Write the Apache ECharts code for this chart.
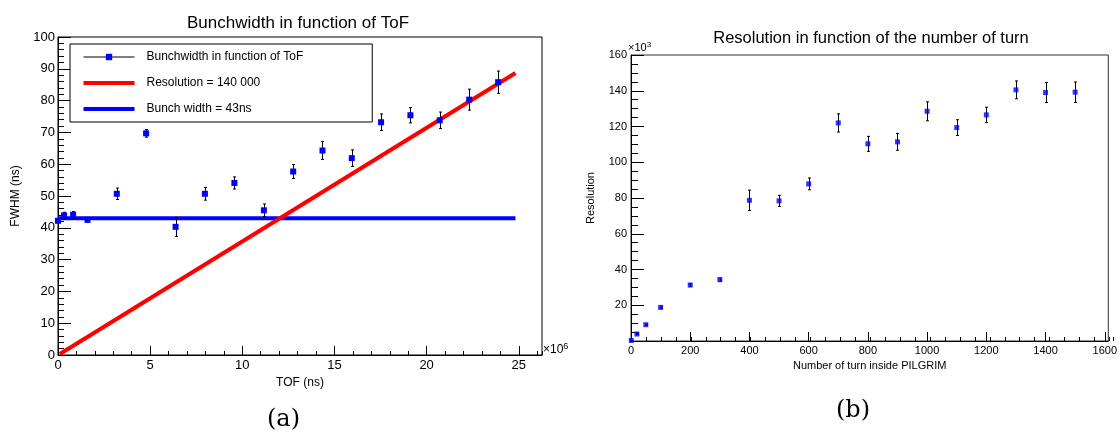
<!DOCTYPE html>
<html><head><meta charset="utf-8">
<script src="https://cdn.jsdelivr.net/npm/echarts@6/dist/echarts.min.js"></script>
<style>html,body{margin:0;padding:0;background:#fff}#c{width:1120px;height:439px}</style>
</head><body><div id="c"></div>
<script>
// ---- Left panel data (a) ----
const tofX    = [0, 0.33, 0.82, 1.6, 3.19, 4.78, 6.38, 7.97, 9.57, 11.17, 12.76, 14.35, 15.94, 17.53, 19.12, 20.71, 22.31, 23.88];
const fwhmY   = [42.2, 43.9, 44.1, 42.5, 50.7, 69.7, 40.3, 50.7, 54.1, 45.5, 57.7, 64.3, 61.9, 73.2, 75.4, 73.8, 80.3, 85.8];
const fwhmErr = [0.3, 1.0, 1.0, 0.7, 1.8, 1.2, 3.0, 2.0, 1.9, 2.0, 2.2, 2.8, 2.6, 2.6, 2.4, 2.6, 3.3, 3.5];
const resFitX = [0.1, 24.82];
const resFitY = [0.3, 88.7];
const bunchX  = [0, 24.82];
const bunchY  = [43, 43];
const leftXTicks = [0, 5, 10, 15, 20, 25];
const leftYTicks = [0, 10, 20, 30, 40, 50, 60, 70, 80, 90, 100];

// ---- Right panel data (b) ----
const turns    = [1, 20, 50, 100, 200, 300, 400, 500, 600, 700, 800, 900, 1000, 1100, 1200, 1300, 1400, 1500];
const resol    = [0.3, 3.9, 9.1, 18.8, 31.3, 34.3, 78.7, 78.4, 87.9, 122.0, 110.3, 111.4, 128.5, 119.4, 126.5, 140.5, 139.0, 139.2];
const resolErr = [0.2, 0.3, 0.4, 0.6, 0.8, 0.9, 5.7, 3.1, 3.3, 5.1, 4.2, 4.7, 5.3, 4.4, 4.3, 5.0, 5.6, 5.7];
const rightXTicks = [0, 200, 400, 600, 800, 1000, 1200, 1400, 1600];
const rightYTicks = [20, 40, 60, 80, 100, 120, 140, 160];

const FONT = '"Liberation Sans", Arial, Helvetica, sans-serif';
const zip = (a, b, c) => a.map((v, i) => c ? [v, b[i], c[i]] : [v, b[i]]);

const G0 = { left: 58, top: 37, width: 484, height: 318 };
const G1 = { left: 631, top: 55, width: 482, height: 286 };

function errRender(params, api) {
  const x = api.value(0), y = api.value(1), e = api.value(2);
  const lo = api.coord([x, y - e]), hi = api.coord([x, y + e]);
  const cx = Math.round(lo[0]) + 0.5, c = 1.5;
  const st = { stroke: '#000', lineWidth: 1 };
  return { type: 'group', children: [
    { type: 'line', shape: { x1: cx, y1: lo[1], x2: cx, y2: hi[1] }, style: st },
    { type: 'line', shape: { x1: cx - c, y1: lo[1], x2: cx + c, y2: lo[1] }, style: st },
    { type: 'line', shape: { x1: cx - c, y1: hi[1], x2: cx + c, y2: hi[1] }, style: st }
  ]};
}

function mainAxis(o) {
  return Object.assign({
    type: 'value',
    axisLine: { show: true, onZero: false, lineStyle: { color: '#000', width: 1 } },
    axisTick: { show: true, inside: true, length: o.tickLen, lineStyle: { color: '#000' } },
    splitLine: { show: false },
    axisLabel: { color: '#000', fontFamily: FONT, fontSize: o.fs, margin: o.margin, showMaxLabel: o.showMax,
      formatter: v => o.ticks.includes(v) ? String(v) : '' },
    nameLocation: 'middle',
    nameTextStyle: { color: '#000', fontFamily: FONT, fontSize: o.nfs }
  }, o.extra);
}
// Minor-tick helper axis: lives in a thin overlay grid just outside the plot,
// on the edge facing the plot, so its outward ticks point into the frame.
function minorAxis(o) {
  return Object.assign({
    type: 'value', axisLine: { show: false, onZero: false }, splitLine: { show: false },
    axisLabel: { show: false },
    axisTick: { show: true, inside: false, length: o.tickLen, lineStyle: { color: '#000' } }
  }, o.extra);
}
const dummyAxis = (gi) => ({ type: 'value', gridIndex: gi, show: false, min: 0, max: 1,
  axisLine: { show: false, onZero: false } });

const chart = echarts.init(document.getElementById('c'), null, { renderer: 'canvas' });
chart.setOption({
  animation: false,
  backgroundColor: '#fff',
  title: [
    { text: 'Bunchwidth in function of ToF', left: 293, top: 10, textAlign: 'center',
      textStyle: { fontFamily: FONT, fontSize: 17, fontWeight: 'normal', color: '#000' } },
    { text: 'Resolution in function of the number of turn', left: 866, top: 25, textAlign: 'center',
      textStyle: { fontFamily: FONT, fontSize: 16.5, fontWeight: 'normal', color: '#000' } }
  ],
  grid: [
    Object.assign({ show: true, borderColor: '#000', borderWidth: 1, backgroundColor: 'transparent' }, G0),
    Object.assign({ show: true, borderColor: '#333', borderWidth: 1, backgroundColor: 'transparent' }, G1),
    { show: false, left: G0.left, top: G0.top + G0.height, width: G0.width, height: 10 },
    { show: false, left: G0.left - 10, top: G0.top, width: 10, height: G0.height },
    { show: false, left: G1.left, top: G1.top + G1.height, width: G1.width, height: 10 },
    { show: false, left: G1.left - 10, top: G1.top, width: 10, height: G1.height }
  ],
  xAxis: [
    mainAxis({ fs: 13, nfs: 12, margin: 4, showMax: false, ticks: leftXTicks, tickLen: 9,
      extra: { gridIndex: 0, min: 0, max: 26.26, interval: 5, position: 'bottom', name: 'TOF (ns)', nameGap: 17 } }),
    mainAxis({ fs: 11, nfs: 11, margin: 4, showMax: false, ticks: rightXTicks, tickLen: 9,
      extra: { gridIndex: 1, min: 0, max: 1612, interval: 200, position: 'bottom', name: 'Number of turn inside PILGRIM', nameGap: 16 } }),
    minorAxis({ tickLen: 4, extra: { gridIndex: 2, min: 0, max: 26.26, interval: 1, position: 'top' } }),
    dummyAxis(3),
    minorAxis({ tickLen: 4, extra: { gridIndex: 4, min: 0, max: 1612, interval: 50, position: 'top' } }),
    dummyAxis(5)
  ],
  yAxis: [
    mainAxis({ fs: 13, nfs: 12, margin: 3, showMax: true, ticks: leftYTicks, tickLen: 13,
      extra: { gridIndex: 0, min: 0, max: 100, interval: 10, position: 'left', name: 'FWHM (ns)', nameGap: 36, nameRotate: 90 } }),
    mainAxis({ fs: 11, nfs: 11, margin: 4, showMax: true, ticks: rightYTicks, tickLen: 13,
      extra: { gridIndex: 1, min: 0, max: 160, interval: 20, position: 'left', name: 'Resolution', nameGap: 35, nameRotate: 90 } }),
    dummyAxis(2),
    minorAxis({ tickLen: 6, extra: { gridIndex: 3, min: 0, max: 100, interval: 2, position: 'right' } }),
    dummyAxis(4),
    minorAxis({ tickLen: 7, extra: { gridIndex: 5, min: 0, max: 160, interval: 5, position: 'right' } })
  ],
  legend: {
    left: 70, top: 44, orient: 'vertical',
    data: [
      { name: 'Bunchwidth in function of ToF', lineStyle: { color: '#000', width: 1, opacity: 1 } },
      { name: 'Resolution = 140 000', icon: 'path://M0,0h51v4H0z' },
      { name: 'Bunch width = 43ns', icon: 'path://M0,0h51v4H0z' }
    ],
    itemWidth: 51, itemHeight: 8, itemGap: 14,
    padding: [7, 69, 7, 13],
    borderColor: '#000', borderWidth: 1, backgroundColor: '#fff',
    textStyle: { color: '#000', fontFamily: FONT, fontSize: 12, padding: [0, 0, 0, 7] },
    selectedMode: false
  },
  graphic: [
    { type: 'text', left: 543, top: 342, style: { text: '×10{s|6}', font: '12px ' + FONT, fill: '#000',
      rich: { s: { fontSize: 9, verticalAlign: 'top', padding: [0, 0, 6, 0] } } } },
    { type: 'text', left: 628, top: 41, style: { text: '×10{s|3}', font: '11px ' + FONT, fill: '#000',
      rich: { s: { fontSize: 8, verticalAlign: 'top', padding: [0, 0, 5, 0] } } } },
    { type: 'text', left: 267, top: 408, style: { text: '(a)', font: '24px "DejaVu Serif", "Liberation Serif", serif', fill: '#000' } },
    { type: 'text', left: 836, top: 399, style: { text: '(b)', font: '24px "DejaVu Serif", "Liberation Serif", serif', fill: '#000' } }
  ],
  series: [
    { name: 'Bunch width = 43ns', type: 'line', xAxisIndex: 0, yAxisIndex: 0, data: zip(bunchX, bunchY),
      symbol: 'none', lineStyle: { color: '#0000ff', width: 4 }, itemStyle: { color: '#0000ff' }, z: 2, silent: true },
    { name: 'Resolution = 140 000', type: 'line', xAxisIndex: 0, yAxisIndex: 0, data: zip(resFitX, resFitY),
      symbol: 'none', lineStyle: { color: '#ff0000', width: 4 }, itemStyle: { color: '#ff0000' }, z: 3, silent: true },
    { type: 'custom', xAxisIndex: 0, yAxisIndex: 0, data: zip(tofX, fwhmY, fwhmErr), renderItem: errRender, z: 4, silent: true },
    { name: 'Bunchwidth in function of ToF', type: 'line', xAxisIndex: 0, yAxisIndex: 0, data: zip(tofX, fwhmY),
      symbol: 'rect', symbolSize: 6, showSymbol: true, lineStyle: { width: 0, opacity: 0 },
      itemStyle: { color: '#0000ff' }, z: 5, silent: true },
    { type: 'custom', xAxisIndex: 1, yAxisIndex: 1, data: zip(turns, resol, resolErr), renderItem: errRender, z: 4, silent: true },
    { name: 'Resolution vs turns', type: 'scatter', xAxisIndex: 1, yAxisIndex: 1, data: zip(turns, resol),
      symbol: 'rect', symbolSize: 5, itemStyle: { color: '#0000ff' }, z: 5, silent: true },
    // empty series that only bind the minor-tick overlay grids so their axes are drawn
    { type: 'scatter', xAxisIndex: 2, yAxisIndex: 2, data: [], silent: true },
    { type: 'scatter', xAxisIndex: 3, yAxisIndex: 3, data: [], silent: true },
    { type: 'scatter', xAxisIndex: 4, yAxisIndex: 4, data: [], silent: true },
    { type: 'scatter', xAxisIndex: 5, yAxisIndex: 5, data: [], silent: true }
  ]
});
</script>
</body></html>
